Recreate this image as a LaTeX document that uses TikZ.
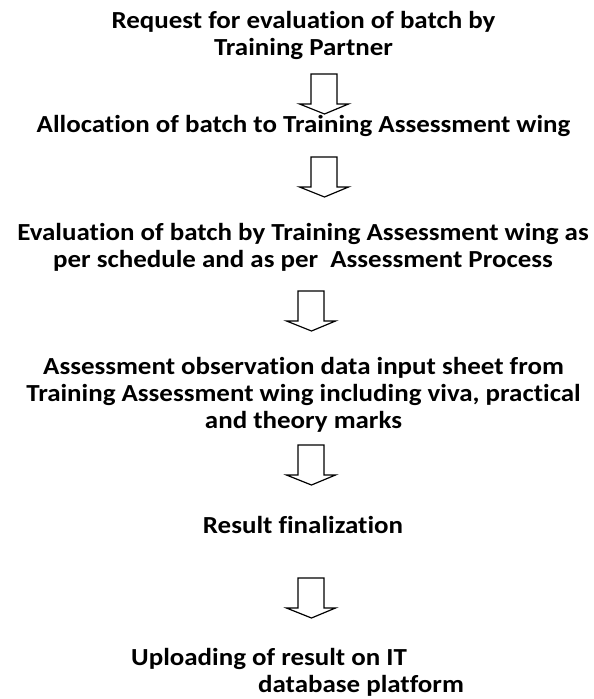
\documentclass[tikz,border=0pt]{standalone}
\usepackage{fontspec}
\setmainfont{Carlito}[FakeStretch=1.1, Ligatures=NoCommon]
\begin{document}
\begin{tikzpicture}[x=1pt,y=-1pt,
  lbl/.style={font=\bfseries\fontsize{24.5}{27}\selectfont, align=center, inner sep=0pt, anchor=base},
  blk/.style={draw=black, line width=1.2pt, fill=white, line join=miter},
  pics/blockarrow/.style={code={
    \draw[blk] (-13,0) -- (13,0) -- (13,30) -- (24.5,30) -- (0.5,40) -- (-24.5,30) -- (-13,30) -- cycle;
  }}]
\useasboundingbox (0,0) rectangle (594,699);
\node[lbl] (t1) at (303.5,55) {Request for evaluation of batch by\\Training Partner};
\node[lbl] (t2) at (303.5,132) {Allocation of batch to Training Assessment wing};
\node[lbl] (t3) at (303,267) {Evaluation of batch by Training Assessment wing as\\per schedule and as per\ \ Assessment Process};
\node[lbl] (t4) at (303.5,428) {Assessment observation data input sheet from\\Training Assessment wing including viva, practical\\and theory marks};
\node[lbl] (t5) at (303,533) {Result finalization};
\node[lbl, align=left, anchor=base west] (t6) at (131,692) {Uploading of result on IT\\\hspace*{127pt}database platform};
\coordinate (a1) at (324,74);
\coordinate (a2) at (324,157);
\coordinate (a3) at (311,291);
\coordinate (a4) at (311,445);
\coordinate (a5) at (311,578);
\pic at (a1) {blockarrow};
\pic at (a2) {blockarrow};
\pic at (a3) {blockarrow};
\pic at (a4) {blockarrow};
\pic at (a5) {blockarrow};
\end{tikzpicture}
\end{document}
